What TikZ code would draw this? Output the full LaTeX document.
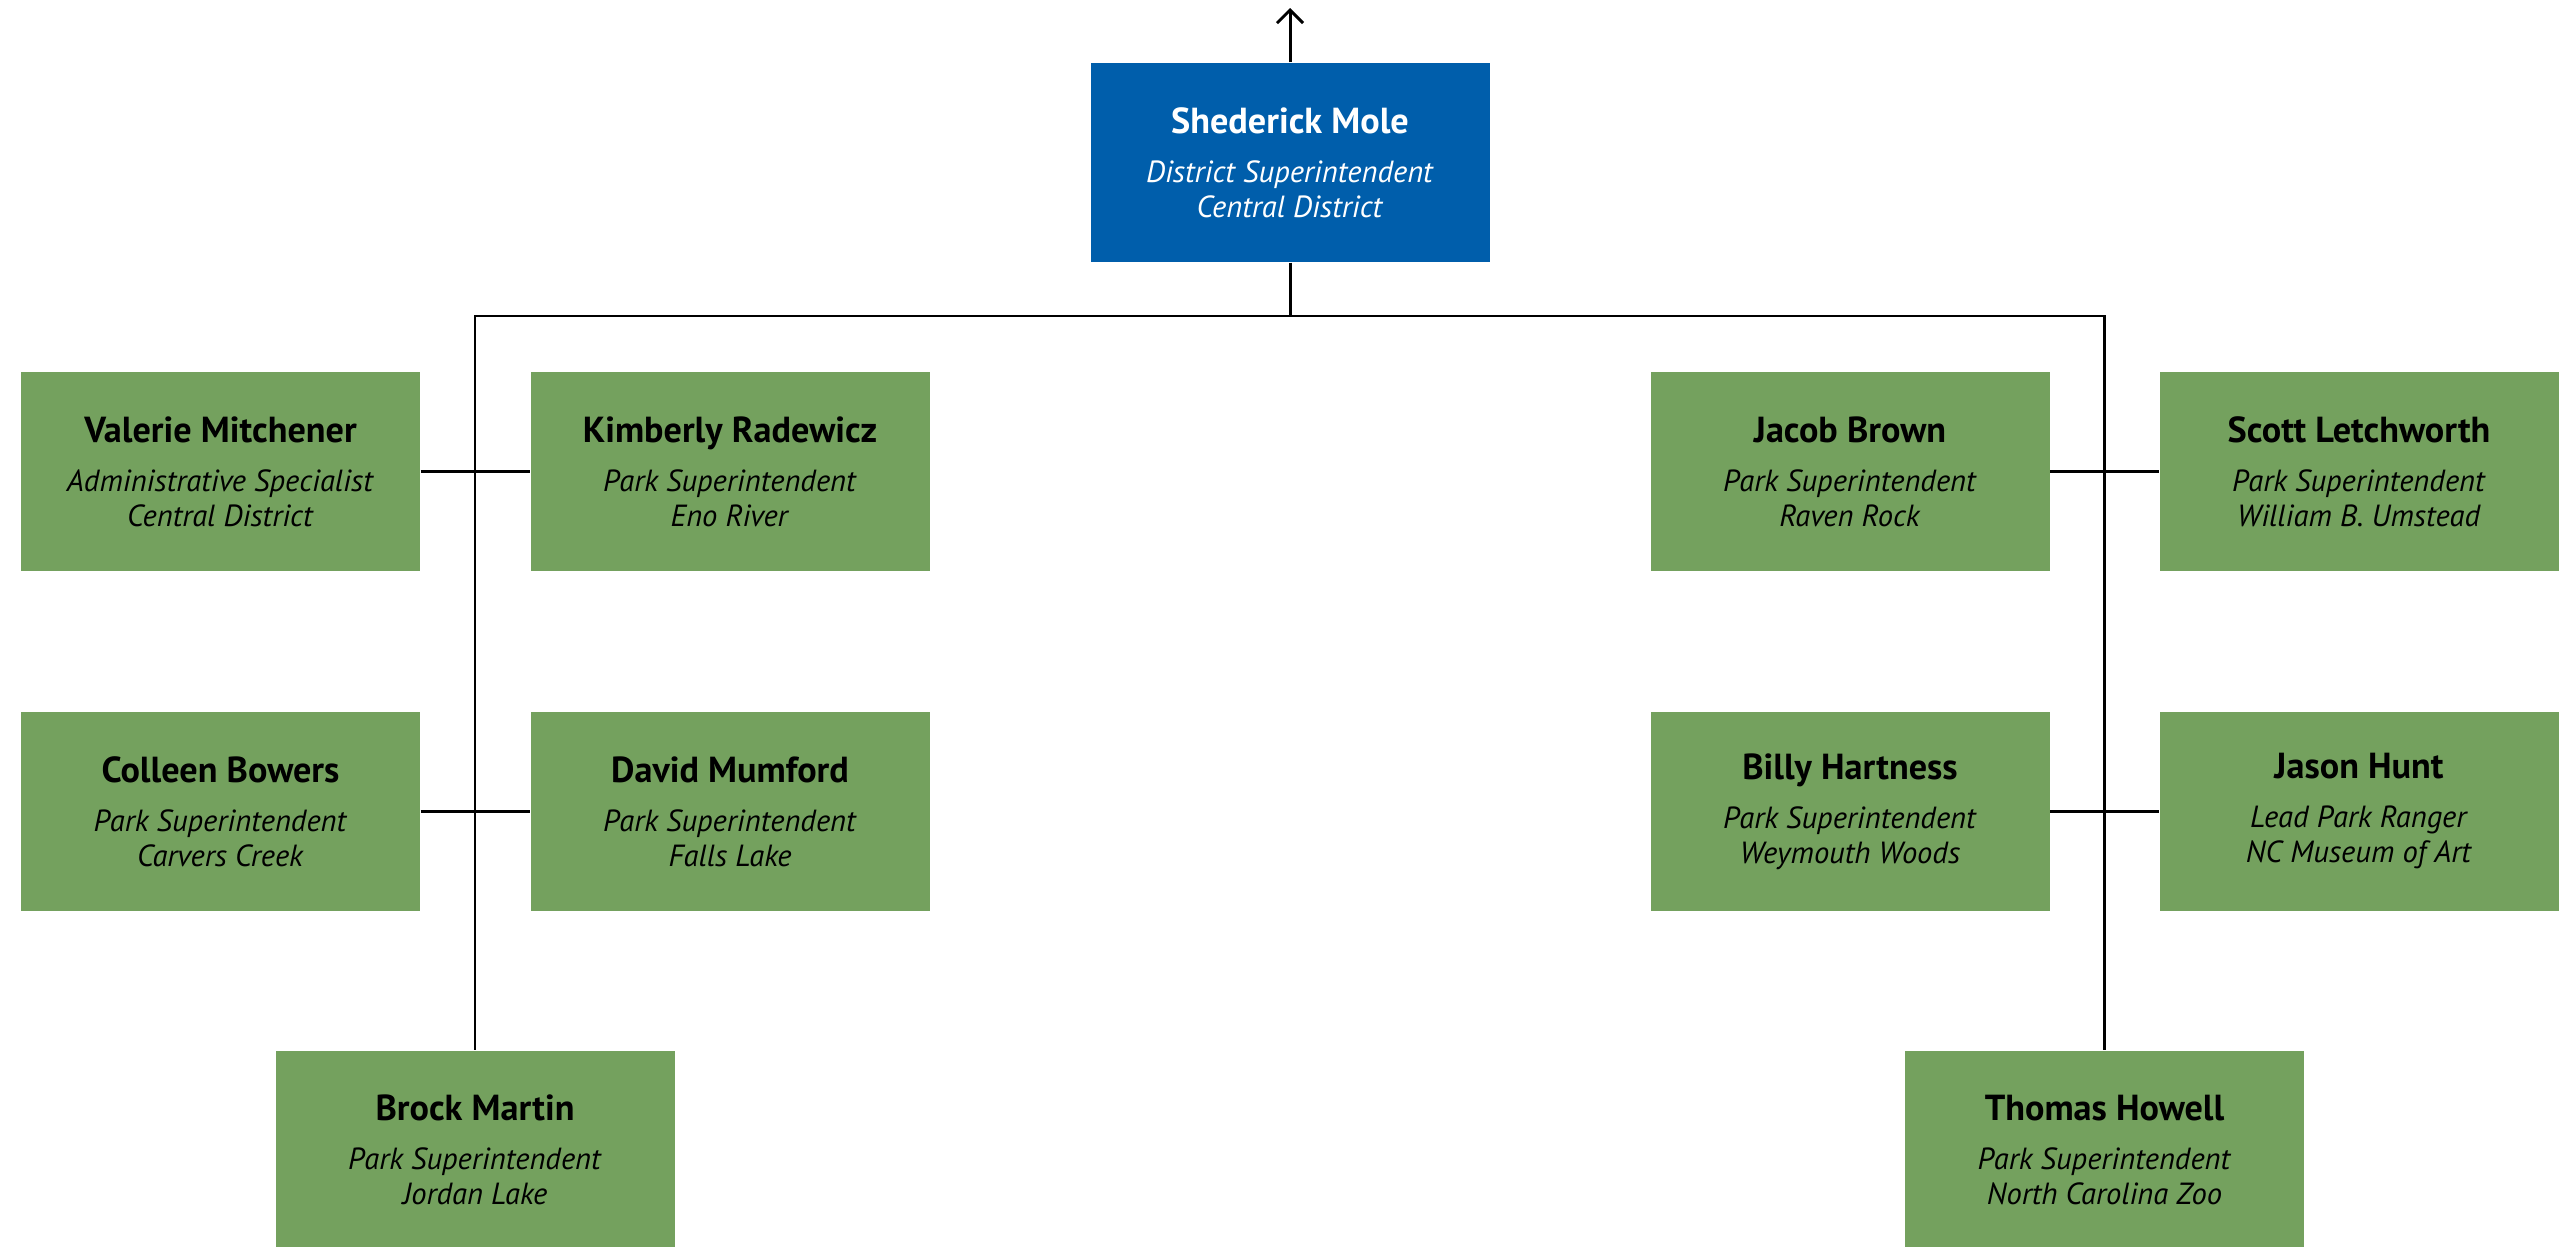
\documentclass[tikz,border=0pt]{standalone}
\usepackage{fontspec}
\setmainfont{PT Sans}
\usepackage{tikz}
\usetikzlibrary{positioning,arrows.meta}

\definecolor{districtblue}{RGB}{0,94,171}
\definecolor{parkgreen}{RGB}{116,161,94}
\newcommand{\staff}[3]{{\fontsize{10.3}{12}\selectfont\bfseries #1}\\[3.9pt]\textit{#2}\\\textit{#3}}

\begin{document}
\begin{tikzpicture}[
    box/.style={minimum width=3.99cm, minimum height=1.99cm, inner sep=0pt, align=center, font=\fontsize{8.7}{10}\selectfont},
    headbox/.style={box, fill=districtblue, text=white},
    parkbox/.style={box, fill=parkgreen, text=black},
    link/.style={line width=0.85pt}
]
    \useasboundingbox (0,0) rectangle (25.6,-12.47);

    % district office
    \node[headbox] (mole) at (12.90,-1.625) {\staff{Shederick Mole}{District Superintendent}{Central District}};
    \coordinate (up) at (12.90,-0.08);

    % left branch
    \node[parkbox] (mitchener) at (2.205,-4.715) {\staff{Valerie Mitchener}{Administrative Specialist}{Central District}};
    \node[parkbox] (radewicz) at (7.30,-4.715) {\staff{Kimberly Radewicz}{Park Superintendent}{Eno River}};
    \node[parkbox] (bowers) at (2.205,-8.115) {\staff{Colleen Bowers}{Park Superintendent}{Carvers Creek}};
    \node[parkbox] (mumford) at (7.30,-8.115) {\staff{David Mumford}{Park Superintendent}{Falls Lake}};
    \node[parkbox] (martin) at (4.75,-11.50) {\staff{Brock Martin}{Park Superintendent}{Jordan Lake}};

    % right branch
    \node[parkbox] (brown) at (18.50,-4.715) {\staff{Jacob Brown}{Park Superintendent}{Raven Rock}};
    \node[parkbox] (letchworth) at (23.59,-4.715) {\staff{Scott Letchworth}{Park Superintendent}{William B. Umstead}};
    \node[parkbox] (hartness) at (18.50,-8.115) {\staff{Billy Hartness}{Park Superintendent}{Weymouth Woods}};
    \node[parkbox] (hunt) at (23.59,-8.115) {\staff{Jason Hunt}{Lead Park Ranger}{NC Museum of Art}};
    \node[parkbox] (howell) at (21.045,-11.50) {\staff{Thomas Howell}{Park Superintendent}{North Carolina Zoo}};

    \coordinate (bus) at (12.90,-3.16);

    \draw[link, -{Straight Barb[length=1.3mm,width=2.6mm]}] (mole.north) -- (up);
    \draw[link] (mole.south) -- (bus);
    \draw[link] (bus) -| (martin.north);
    \draw[link] (bus) -| (howell.north);

    \draw[link] (mitchener.east) -- (radewicz.west);
    \draw[link] (bowers.east) -- (mumford.west);
    \draw[link] (brown.east) -- (letchworth.west);
    \draw[link] (hartness.east) -- (hunt.west);
\end{tikzpicture}
\end{document}
